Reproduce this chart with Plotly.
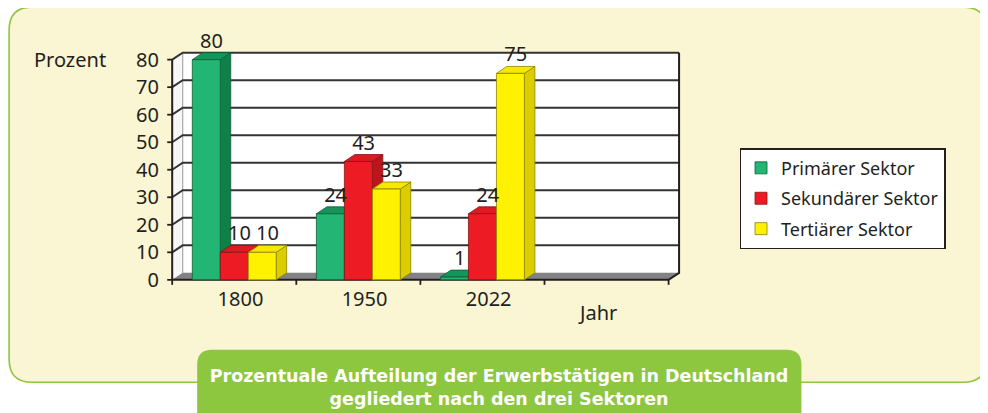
import plotly.graph_objects as go

# ---------------- data ----------------
years = ["1800", "1950", "2022"]
primaer = [80, 24, 1]
sekundaer = [10, 43, 24]
tertiaer = [10, 33, 75]
series_names = ["Primärer Sektor", "Sekundärer Sektor", "Tertiärer Sektor"]
y_ticks = [0, 10, 20, 30, 40, 50, 60, 70, 80]
x_label = "Jahr"
y_label = "Prozent"
title_text = "Prozentuale Aufteilung der Erwerbstätigen in Deutschland<br>gegliedert nach den drei Sektoren"

# ---------------- style ----------------
front_cols = ["#22B573", "#ED1C24", "#FFF200"]
top_cols = ["#14955A", "#DD1A21", "#F6E800"]
side_cols = ["#0F8048", "#BE151C", "#DCCD00"]
edge_cols = ["#0B5E35", "#8A1216", "#8C8200"]
TXT = "#231F20"
FONT = "Noto Sans"

OFF = 8                      # page body margin: figure starts at page px (8, 8)
W, H = 988 - OFF, 413 - OFF
X0PX, UNIT_X = 172.0 - OFF, 124.25      # figure pixel of x=-0.5, px per category
Y0PX, UNIT_Y = 280.0 - OFF, 2.759       # figure pixel of y=0, px per percent
TLX = 5 / UNIT_X
TLY = 5 / UNIT_Y
XR = [-0.55, 3.6]
YR = [-TLY - 0.06, 83.5]
ml = X0PX + (XR[0] + 0.5) * UNIT_X
pw = (XR[1] - XR[0]) * UNIT_X
mr = W - ml - pw
mb = H - (Y0PX + (0 - YR[0]) * UNIT_Y)
ph = (YR[1] - YR[0]) * UNIT_Y
mt = H - mb - ph

DX = 10.5 / UNIT_X    # depth offset in data units
DY = 7.0 / UNIT_Y
BARGAP = 0.324
GW = 1 - BARGAP
BW = GW / 3
NCAT = 4              # three years + one empty slot
XL, XRT = -0.5, NCAT - 0.5
YMAX = y_ticks[-1]


def px_x(px):
    """page pixel -> paper x"""
    return (px - OFF - ml) / pw


def px_y(py):
    """page pixel -> paper y"""
    return (H - mb - (py - OFF)) / ph


def rounded_path(l, t, r, b, rad):
    pts = [
        ("M", [(l + rad, t)]), ("L", [(r - rad, t)]), ("Q", [(r, t), (r, t + rad)]),
        ("L", [(r, b - rad)]), ("Q", [(r, b), (r - rad, b)]), ("L", [(l + rad, b)]),
        ("Q", [(l, b), (l, b - rad)]), ("L", [(l, t + rad)]), ("Q", [(l, t), (l + rad, t)]),
    ]
    s = ""
    for cmd, ps in pts:
        s += cmd + " " + " ".join(f"{px_x(a):.5f},{px_y(c):.5f}" for a, c in ps) + " "
    return s + "Z"


fig = go.Figure()

# back wall, left wall, floor
fig.add_trace(go.Scatter(
    x=[XL + DX, XRT + DX, XRT + DX, XL + DX, XL + DX],
    y=[DY, DY, YMAX + DY, YMAX + DY, DY],
    fill="toself", fillcolor="white", mode="lines", line=dict(width=0),
    showlegend=False, hoverinfo="skip"))
fig.add_trace(go.Scatter(
    x=[XL, XL + DX, XL + DX, XL, XL],
    y=[0, DY, YMAX + DY, YMAX, 0],
    fill="toself", fillcolor="#F7F7F7", mode="lines", line=dict(width=0),
    showlegend=False, hoverinfo="skip"))
fig.add_trace(go.Scatter(
    x=[XL + DX, XL + DX], y=[DY, YMAX + DY], mode="lines",
    line=dict(color="#A7A9AC", width=1.2), showlegend=False, hoverinfo="skip"))
fig.add_trace(go.Scatter(
    x=[XL, XRT, XRT + DX, XL + DX, XL],
    y=[0, 0, DY, DY, 0],
    fill="toself", fillcolor="#808285", mode="lines", line=dict(width=0),
    showlegend=False, hoverinfo="skip"))

# gridlines (side wall + back wall)
gx, gy = [], []
for v in y_ticks[1:]:
    gx += [XL, XL + DX, XRT + DX, None]
    gy += [v, v + DY, v + DY, None]
fig.add_trace(go.Scatter(x=gx, y=gy, mode="lines", line=dict(color="#333333", width=2),
                         showlegend=False, hoverinfo="skip"))

# front axes lines
fig.add_trace(go.Scatter(x=[XL, XL], y=[0, YMAX], mode="lines",
                         line=dict(color=TXT, width=2), showlegend=False, hoverinfo="skip"))
fig.add_trace(go.Scatter(x=[XL, XRT, XRT + DX, XRT + DX], y=[0, 0, DY, YMAX + DY], mode="lines",
                         line=dict(color=TXT, width=2), showlegend=False, hoverinfo="skip"))

# tick marks
tx, ty = [], []
for v in y_ticks:
    tx += [XL - TLX, XL, None]
    ty += [v, v, None]
for k in range(NCAT + 1):
    b = XL + k
    tx += [b, b, None]
    ty += [0, -TLY, None]
fig.add_trace(go.Scatter(x=tx, y=ty, mode="lines", line=dict(color=TXT, width=1.8),
                         showlegend=False, hoverinfo="skip"))

# 3D faces (top and side) of the bars
all_series = [primaer, sekundaer, tertiaer]
for j, vals in enumerate(all_series):
    txs, tys, sxs, sys_ = [], [], [], []
    for i, v in enumerate(vals):
        x0 = i - GW / 2 + j * BW
        x1 = x0 + BW
        txs += [x0, x1, x1 + DX, x0 + DX, x0, None]
        tys += [v, v, v + DY, v + DY, v, None]
        sxs += [x1, x1 + DX, x1 + DX, x1, x1, None]
        sys_ += [0, DY, v + DY, v, 0, None]
    fig.add_trace(go.Scatter(x=sxs, y=sys_, fill="toself", fillcolor=side_cols[j], mode="lines",
                             line=dict(color=edge_cols[j], width=0.8),
                             showlegend=False, hoverinfo="skip"))
    fig.add_trace(go.Scatter(x=txs, y=tys, fill="toself", fillcolor=top_cols[j], mode="lines",
                             line=dict(color=edge_cols[j], width=0.8),
                             showlegend=False, hoverinfo="skip"))

# front faces of bars (overlay axes so they sit in front of the depth faces)
xcat = list(range(len(years)))
for j, vals in enumerate(all_series):
    fig.add_trace(go.Bar(
        x=xcat, y=vals, name=series_names[j], xaxis="x2", yaxis="y2",
        marker=dict(color=front_cols[j], line=dict(color=edge_cols[j], width=0.8)),
        legendgroup=f"g{j}", offsetgroup=str(j),
        hovertemplate="%{y} %<extra>" + series_names[j] + "</extra>"))

# value labels
lx, ly, lt = [], [], []
for j, vals in enumerate(all_series):
    for i, v in enumerate(vals):
        lx.append(i - GW / 2 + (j + 0.5) * BW + DX / 2)
        ly.append(v + DY)
        lt.append(str(v))
fig.add_trace(go.Scatter(x=lx, y=ly, text=lt, mode="text", textposition="top center",
                         textfont=dict(family=FONT, size=20, color=TXT), cliponaxis=False,
                         xaxis="x2", yaxis="y2", showlegend=False, hoverinfo="skip"))

LABEL_SHIFT = 0.05
axis_common = dict(showgrid=False, zeroline=False, showline=False, fixedrange=True)
fig.update_layout(
    template="none",
    width=W, height=H,
    margin=dict(l=ml, r=mr, t=mt, b=mb, pad=0, autoexpand=False),
    paper_bgcolor="white",
    plot_bgcolor="rgba(0,0,0,0)",
    barmode="group", bargap=BARGAP, bargroupgap=0,
    font=dict(family=FONT, color=TXT, size=18),
    xaxis=dict(range=XR, tickvals=[i + LABEL_SHIFT for i in xcat], ticktext=years, ticks="",
               tickfont=dict(family=FONT, size=20, color=TXT), ticklabelstandoff=0,
               automargin=False, **axis_common),
    yaxis=dict(range=YR, tickvals=y_ticks, ticks="", tickfont=dict(family=FONT, size=20, color=TXT),
               ticklabelstandoff=6, automargin=False, **axis_common),
    xaxis2=dict(range=XR, overlaying="x", visible=False, **axis_common),
    yaxis2=dict(range=YR, overlaying="y", visible=False, **axis_common),
    legend=dict(x=px_x(740), y=px_y(148), xanchor="left", yanchor="top",
                bgcolor="white", bordercolor=TXT, borderwidth=1.5,
                font=dict(family=FONT, size=18, color=TXT),
                traceorder="grouped", tracegroupgap=4),
    title=dict(text="<b>" + title_text + "</b>", x=(499 - OFF) / W, y=1 - (382 - OFF) / H,
               xanchor="center", yanchor="middle", xref="container", yref="container",
               font=dict(family="DejaVu Sans", size=17.5, color="white")),
    showlegend=True,
)

fig.update_layout(shapes=[
    dict(type="path", xref="paper", yref="paper", layer="below",
         path=rounded_path(8.7, 6.7, 987.2, 382.7, 23),
         fillcolor="#FAF5D3", line=dict(color="#8DC63F", width=1.6)),
    dict(type="path", xref="paper", yref="paper", layer="below",
         path=rounded_path(197, 350, 802, 440, 15),
         fillcolor="#8DC63F", line=dict(width=0)),
])

fig.add_annotation(text=y_label, xref="paper", yref="paper", x=px_x(32), y=px_y(59),
                   xanchor="left", yanchor="middle", showarrow=False,
                   font=dict(family=FONT, size=20, color=TXT))
fig.add_annotation(text=x_label, xref="paper", yref="paper", x=px_x(598), y=px_y(313),
                   xanchor="center", yanchor="middle", showarrow=False,
                   font=dict(family=FONT, size=20, color=TXT))

fig.write_html("out.html")
